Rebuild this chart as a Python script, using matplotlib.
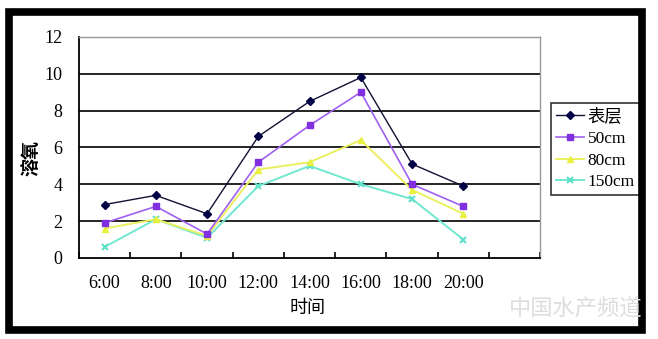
import matplotlib
matplotlib.use("Agg")
import matplotlib.pyplot as plt
from matplotlib.patches import Rectangle

plt.rcParams['font.family'] = ['Liberation Serif', 'Noto Sans CJK SC']

times = ['6:00', '8:00', '10:00', '12:00', '14:00', '16:00', '18:00', '20:00']
surface = [2.9, 3.4, 2.4, 6.6, 8.5, 9.8, 5.1, 3.9]
cm50 = [1.9, 2.8, 1.3, 5.2, 7.2, 9.0, 4.0, 2.8]
cm80 = [1.6, 2.1, 1.2, 4.8, 5.2, 6.4, 3.7, 2.4]
cm150 = [0.6, 2.1, 1.1, 3.9, 5.0, 4.0, 3.2, 1.0]
labels = ['表层', '50cm', '80cm', '150cm']
yticks = [0, 2, 4, 6, 8, 10, 12]

fig = plt.figure(figsize=(6.58, 3.39), dpi=100)
ax = fig.add_axes([0.120, 0.239, 0.701, 0.652])

x = range(len(times))
ax.plot(x, surface, color='#111133', lw=1.0, marker='D', ms=4,
        mfc='#000044', mec='#000044', label=labels[0], zorder=5)
ax.plot(x, cm50, color='#a060f0', lw=1.2, marker='s', ms=5,
        mfc='#8030e0', mec='#8030e0', label=labels[1], zorder=4)
ax.plot(x, cm80, color='#eaf060', lw=1.4, marker='^', ms=5,
        mfc='#e8f040', mec='#e8f040', label=labels[2], zorder=3)
ax.plot(x, cm150, color='#70e8d0', lw=1.4, marker='x', ms=5, mew=1.5,
        mfc='#60e0c8', mec='#60e0c8', label=labels[3], zorder=2)

ax.set_xlim(-0.5, len(times) + 0.5)
ax.set_ylim(0, 12)
ax.set_yticks(yticks)
ax.set_yticklabels([str(v) for v in yticks], fontsize=13)
ax.set_xticks(list(x))
ax.set_xticklabels(times, fontsize=13)
ax.tick_params(axis='x', length=0, pad=12)
ax.set_xticks([i - 0.5 for i in range(len(times) + 2)], minor=True)
ax.tick_params(axis='x', which='minor', direction='in', length=4, width=1.2, color='black')
ax.tick_params(axis='y', length=0, pad=12)

for v in yticks[1:-1]:
    ax.axhline(v, color='black', lw=1.2, zorder=1)

for s in ['top', 'right']:
    ax.spines[s].set_color('#999999')
    ax.spines[s].set_linewidth(1.0)
for s in ['left', 'bottom']:
    ax.spines[s].set_color('black')
    ax.spines[s].set_linewidth(1.3)

fig.text(308 / 658, 1 - 308 / 339, '时间', fontsize=13, family=['Noto Sans CJK SC'],
         ha='center', va='center')
fig.text(31 / 658, 1 - 158 / 339, '溶氧', fontsize=13, family=['Noto Sans CJK SC'],
         ha='center', va='center', rotation=90, weight='bold')

leg = ax.legend(loc='upper left', bbox_to_anchor=(551 / 658, 1 - 103 / 339),
                bbox_transform=fig.transFigure,
                fontsize=12.5, frameon=True, fancybox=False, handlelength=1.6,
                handletextpad=0.2, borderpad=0.3, labelspacing=0.32, borderaxespad=0)
leg.get_frame().set_edgecolor('black')
leg.get_frame().set_linewidth(1.2)

# thick black frame round the picture
fig.patches.append(Rectangle((0.0144, 0.027), 0.961, 0.939, transform=fig.transFigure,
                             fill=False, edgecolor='black', lw=5.5))

# faint watermark
fig.text(0.875, 0.09, '中国水产频道', fontsize=16, color='#dddddd',
         family=['Noto Sans CJK SC'], ha='center', va='center', style='italic')

fig.savefig('out.png', dpi=100)
